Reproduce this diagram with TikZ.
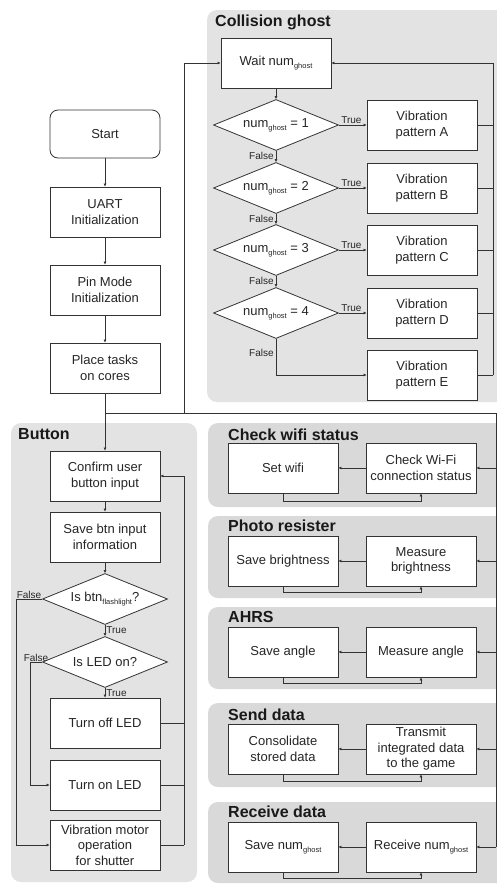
\documentclass[tikz,border=0pt]{standalone}
\usepackage{fontspec}
\setmainfont{Liberation Sans}
\usetikzlibrary{shapes.geometric,arrows.meta}
\newcommand\subg[1]{\raisebox{-0.4ex}{\fontsize{7.5}{8}\selectfont #1}}
\definecolor{ln}{HTML}{333333}
\definecolor{panelA}{HTML}{E3E3E3}
\definecolor{panelB}{HTML}{D9D9D9}
\begin{document}
\begin{tikzpicture}[x=1pt,y=-1pt,
  box/.style={draw=ln, line width=0.8pt, fill=white, minimum width=110pt, minimum height=50pt, align=center, inner sep=1pt, font=\fontsize{13}{15.5}\selectfont, text=black!85},
  dia/.style={diamond, draw=ln, line width=0.8pt, fill=white, shape aspect=2.4, minimum width=125pt, minimum height=51pt, inner sep=0pt, font=\fontsize{13}{15}\selectfont, text=black!85},
  panelg/.style={fill=panelA, rounded corners=10pt},
  panelr/.style={fill=panelB, rounded corners=10pt},
  ttl/.style={anchor=west, font=\fontsize{16}{18}\selectfont\bfseries, inner sep=0pt, text=black!90},
  lbl/.style={font=\fontsize{10}{11}\selectfont, inner sep=1pt, text=black!85},
  con/.style={draw=ln, line width=0.8pt},
  arr/.style={con, -{Latex[length=3pt,width=3pt]}},
]
\useasboundingbox (0,0) rectangle (497,884);
\clip (0,0) rectangle (497,884);
\fill[white] (0,0) rectangle (497,884);

% panels
\path[panelg] (207,10) rectangle (530,402);
\path[panelg] (11,423) rectangle (197,882);
\path[panelr] (208,423) rectangle (530,507);
\path[panelr] (208,516) rectangle (530,598);
\path[panelr] (208,607) rectangle (530,689);
\path[panelr] (208,703) rectangle (530,787);
\path[panelr] (208,802) rectangle (530,883);

\node[ttl] (tcg) at (215,22) {Collision ghost};
\node[ttl] (tbt) at (18,434) {Button};
\node[ttl] (twf) at (228,435) {Check wifi status};
\node[ttl] (tph) at (228,526) {Photo resister};
\node[ttl] (tah) at (228,617) {AHRS};
\node[ttl] (tsd) at (228,715) {Send data};
\node[ttl] (trd) at (228,812) {Receive data};

% left main column
\node[box, rounded corners=8pt, minimum height=48pt] (start) at (105,134) {Start};
\node[box] (uart) at (105,212) {UART\\Initialization};
\node[box] (pin) at (105,290) {Pin Mode\\Initialization};
\node[box] (place) at (105,368) {Place tasks\\on cores};
\draw[arr] (start) -- (uart);
\draw[arr] (uart) -- (pin);
\draw[arr] (pin) -- (place);

% collision ghost
\node[box] (wait) at (276,63) {Wait num\subg{ghost}};
\node[dia] (d1) at (276,125) {num\subg{ghost} = 1};
\node[dia] (d2) at (276,188) {num\subg{ghost} = 2};
\node[dia] (d3) at (276,250) {num\subg{ghost} = 3};
\node[dia] (d4) at (276,313) {num\subg{ghost} = 4};
\node[box] (va) at (422,125) {Vibration\\pattern A};
\node[box] (vb) at (422,188) {Vibration\\pattern B};
\node[box] (vc) at (422,250) {Vibration\\pattern C};
\node[box] (vd) at (422,313) {Vibration\\pattern D};
\node[box] (ve) at (422,375) {Vibration\\pattern E};
\coordinate (cgR) at (493,63);
\coordinate (cgRb) at (493,375);

\draw[arr] (wait) -- (d1);
\draw[arr] (d1) -- node[lbl, pos=0.45, left=1pt] {False} (d2);
\draw[arr] (d2) -- node[lbl, pos=0.45, left=1pt] {False} (d3);
\draw[arr] (d3) -- node[lbl, pos=0.45, left=1pt] {False} (d4);
\draw[arr] (d1) -- node[lbl, above=0pt, pos=0.45] {True} (va);
\draw[arr] (d2) -- node[lbl, above=0pt, pos=0.45] {True} (vb);
\draw[arr] (d3) -- node[lbl, above=0pt, pos=0.45] {True} (vc);
\draw[arr] (d4) -- node[lbl, above=0pt, pos=0.45] {True} (vd);
\draw[arr] (d4.south) |- node[lbl, pos=0.2, left=1pt] {False} (ve.west);
\draw[con] (va.east) -- (va.east -| cgR);
\draw[con] (vb.east) -- (vb.east -| cgR);
\draw[con] (vc.east) -- (vc.east -| cgR);
\draw[con] (vd.east) -- (vd.east -| cgR);
\draw[con] (ve.east) -- (cgRb);
\draw[arr] (cgRb) -- (cgR) -- (wait.east);

% dispatch lines
\coordinate (jL) at (105,413);
\coordinate (jM) at (184,413);
\coordinate (jR) at (496,413);
\coordinate (jT) at (184,63);
\draw[con] (place.south) -- (jL) -- (jR);
\draw[arr] (jM) -- (jT) -- (wait.west);

% button
\node[box] (conf) at (105,476) {Confirm user\\button input};
\node[box] (save) at (105,537) {Save btn input\\information};
\node[dia] (db) at (105,599) {Is btn\subg{flashlight}?};
\node[dia] (dl) at (105,662) {Is LED on?};
\node[box] (off) at (105,723) {Turn off LED};
\node[box] (on) at (105,785) {Turn on LED};
\node[box] (vib) at (105,845) {Vibration motor\\operation\\for shutter};
\coordinate (bR) at (184,476);
\coordinate (bRb) at (184,845);
\coordinate (f1) at (16,599);
\coordinate (f2) at (30,662);

\draw[arr] (jL) -- (conf);
\draw[arr] (conf) -- (save);
\draw[arr] (save) -- (db);
\draw[arr] (db) -- node[lbl, pos=0.5, right=0pt] {True} (dl);
\draw[arr] (dl) -- node[lbl, pos=0.5, right=0pt] {True} (off);
\draw[arr] (db.west) -- node[lbl, pos=0.5, above=-1pt] {False} (f1) |- (vib.west);
\draw[arr] (dl.west) -- node[lbl, pos=0.5, above=-1pt] {False} (f2) |- (on.west);
\draw[con] (off.east) -- (off.east -| bR);
\draw[con] (on.east) -- (on.east -| bR);
\draw[con] (vib.east) -- (bRb);
\draw[arr] (bRb) -- (bR) -- (conf.east);

% right panels
\node[box] (setw) at (283,468) {Set wifi};
\node[box] (chkw) at (421,468) {Check Wi-Fi\\connection status};
\node[box] (saveb) at (283,561) {Save brightness};
\node[box] (measb) at (421,561) {Measure\\brightness};
\node[box] (savea) at (283,652) {Save angle};
\node[box] (measa) at (421,652) {Measure angle};
\node[box] (cons) at (283,749) {Consolidate\\stored data};
\node[box] (trans) at (421,749) {Transmit\\integrated data\\to the game};
\node[box] (saven) at (283,847) {Save num\subg{ghost}};
\node[box] (recv) at (421,847) {Receive num\subg{ghost}};
\coordinate (rB) at (496,847);
\draw[con] (jR) -- (rB);
\foreach \a/\b/\ly in {chkw/setw/501, measb/saveb/592, measa/savea/683, trans/cons/781, recv/saven/878}{
  \draw[arr] (\a.east -| rB) -- (\a.east);
  \draw[arr] (\a) -- (\b);
  \draw[arr] (\b.south) -- (\b.south |- 0,\ly) -| (\a.south);
}
\end{tikzpicture}
\end{document}
